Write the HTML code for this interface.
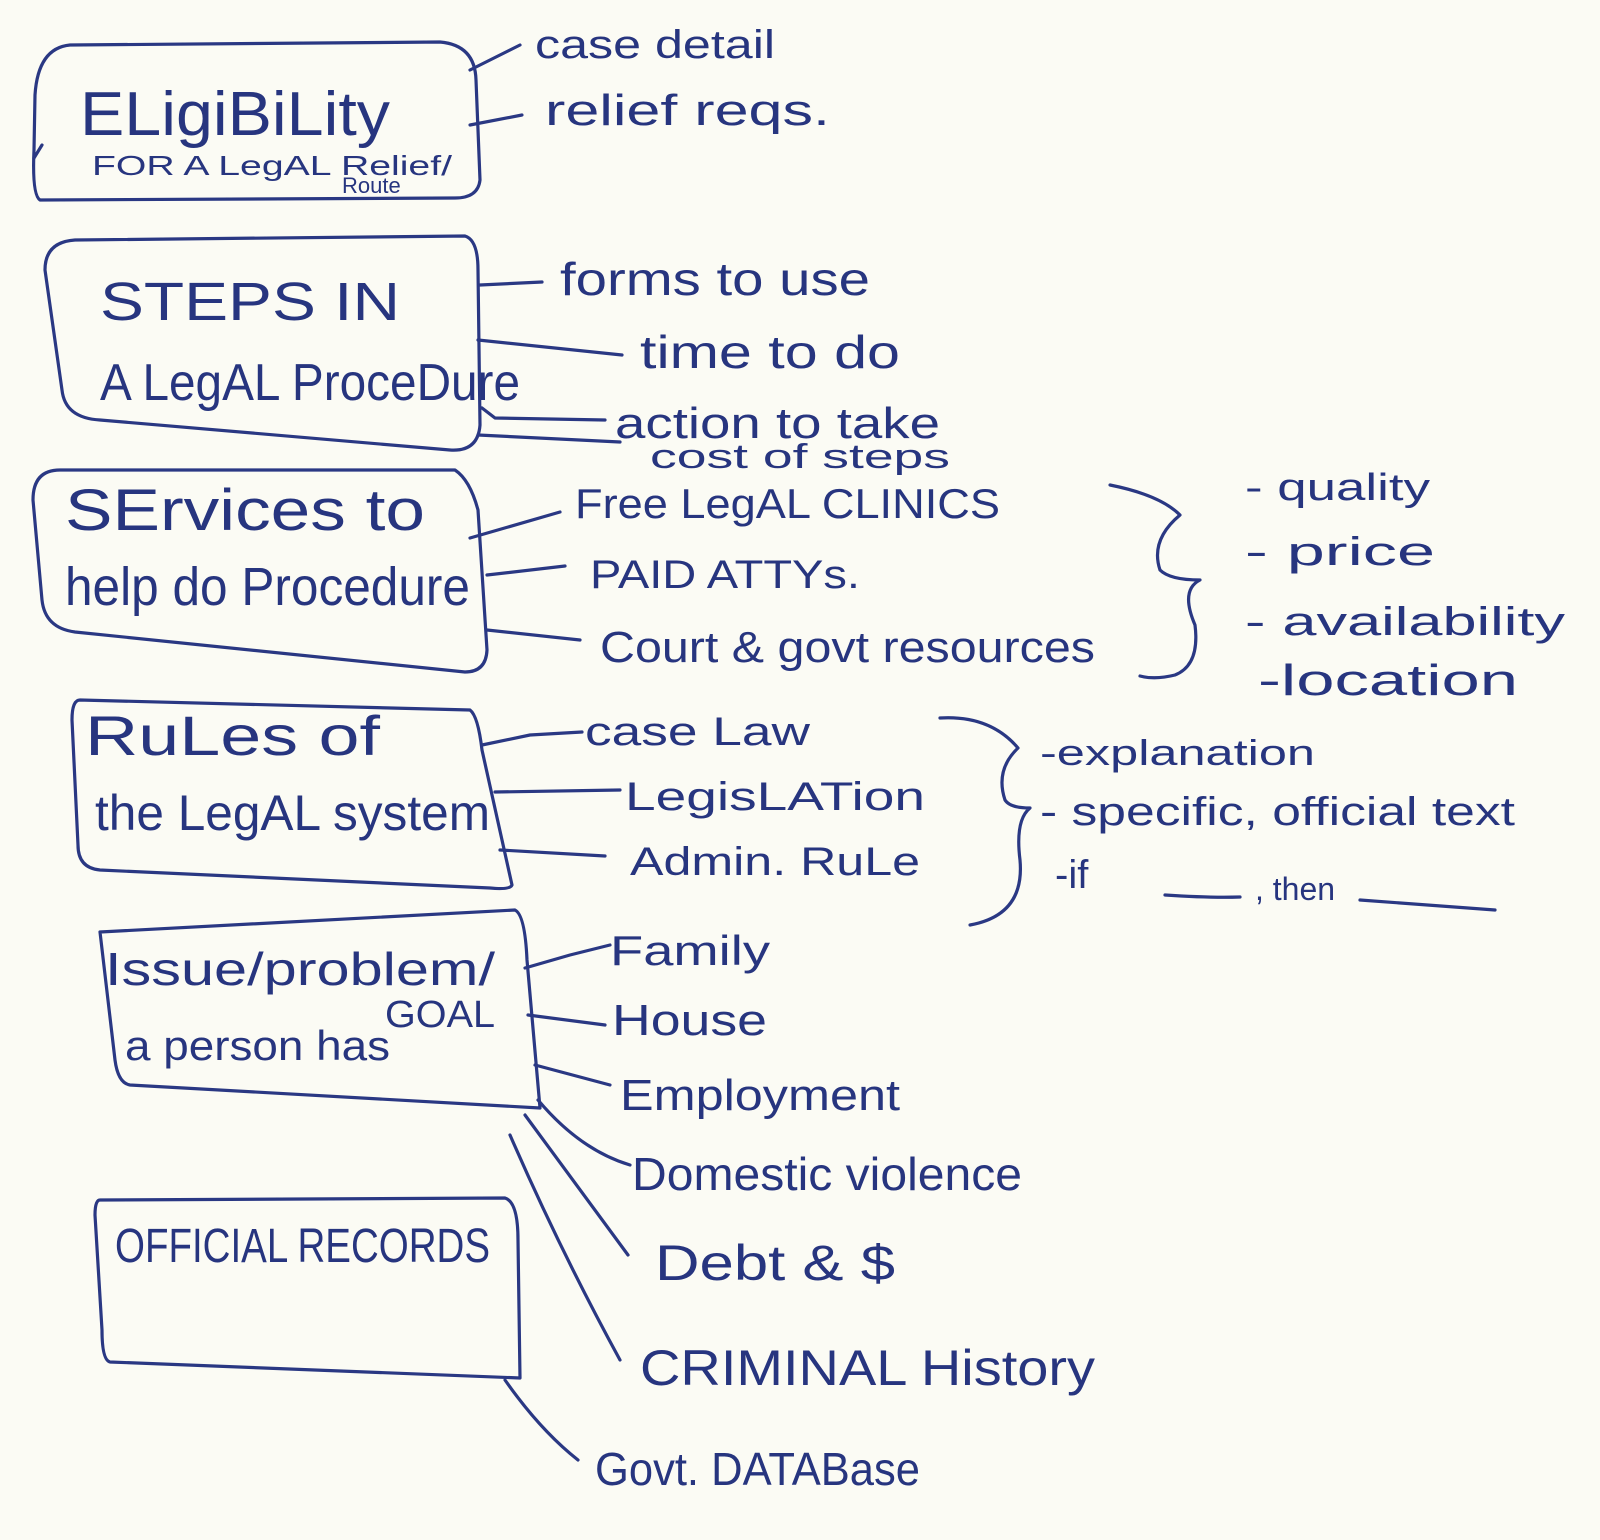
<!DOCTYPE html>
<html><head><meta charset="utf-8"><style>
html,body{margin:0;padding:0;background:#fbfbf4;}
svg{display:block;}
text{font-family:"Liberation Sans",sans-serif;fill:#27357f;}
</style></head><body>
<svg width="1600" height="1540" viewBox="0 0 1600 1540" xmlns="http://www.w3.org/2000/svg">
<rect width="1600" height="1540" fill="#fbfbf4"/>
<g fill="none" stroke="#2a3883" stroke-width="3.2" stroke-linecap="round" stroke-linejoin="round">
<!-- boxes -->
<path d="M70,45 L440,42 Q475,45 476,80 L480,180 Q478,198 455,198 L40,200 Q32,195 34,150 L35,95 Q38,48 70,45"/>
<path d="M42,145 L34,158"/>
<path d="M75,240 L465,236 Q478,240 478,270 L480,425 Q478,452 450,450 L100,420 Q65,418 62,390 L45,270 Q45,242 75,240"/>
<path d="M60,470 L455,470 Q470,480 478,510 L487,650 Q486,672 465,672 L75,632 Q45,628 42,600 L33,500 Q33,470 60,470"/>
<path d="M80,700 L470,710 Q478,716 482,750 L512,885 Q510,890 490,888 L100,870 Q78,868 78,845 L72,720 Q72,700 80,700"/>
<path d="M100,932 L515,910 Q525,915 527,960 L540,1108 L130,1085 Q118,1083 115,1060 L100,932"/>
<path d="M100,1200 L505,1198 Q518,1202 518,1240 L520,1378 L110,1362 Q102,1360 102,1330 L95,1215 Q95,1200 100,1200"/>
<!-- connectors -->
<path d="M470,70 L520,45"/><path d="M470,125 L522,115"/>
<path d="M480,285 L542,282"/><path d="M478,340 L622,355"/>
<path d="M482,408 L495,418 L605,420"/><path d="M478,435 L620,442"/>
<path d="M470,538 L560,512"/><path d="M487,575 L565,566"/><path d="M487,630 L580,640"/>
<path d="M482,745 L530,735 L582,732"/><path d="M495,792 L620,790"/><path d="M500,850 L605,856"/>
<path d="M525,968 L570,955 L610,945"/><path d="M528,1015 L605,1025"/><path d="M535,1065 L610,1085"/>
<path d="M538,1100 Q580,1150 630,1165"/><path d="M525,1115 Q580,1190 628,1255"/>
<path d="M510,1135 Q560,1250 620,1360"/><path d="M505,1380 Q540,1430 578,1460"/>
<!-- braces -->
<path d="M1110,485 Q1160,495 1180,515 Q1150,540 1160,570 Q1170,580 1200,580 Q1180,590 1195,625 Q1200,665 1175,675 Q1155,680 1140,676"/>
<path d="M940,718 Q990,715 1018,748 Q995,770 1005,800 Q1010,808 1030,808 Q1015,820 1020,860 Q1025,915 970,925"/>
<path d="M1165,895 Q1210,898 1240,897"/><path d="M1360,900 Q1430,905 1495,910"/>
</g>
<text x="80" y="135" font-size="62" textLength="310" lengthAdjust="spacingAndGlyphs">ELigiBiLity</text>
<text x="92" y="175" font-size="28" textLength="360" lengthAdjust="spacingAndGlyphs">FOR A LegAL Relief/</text>
<text x="342" y="193" font-size="22">Route</text>
<text x="535" y="58" font-size="40" textLength="240" lengthAdjust="spacingAndGlyphs">case detail</text>
<text x="545" y="125" font-size="44" textLength="285" lengthAdjust="spacingAndGlyphs">relief reqs.</text>
<text x="100" y="320" font-size="54" textLength="300" lengthAdjust="spacingAndGlyphs">STEPS   IN</text>
<text x="100" y="400" font-size="52" textLength="420" lengthAdjust="spacingAndGlyphs">A LegAL ProceDure</text>
<text x="560" y="295" font-size="46" textLength="310" lengthAdjust="spacingAndGlyphs">forms to use</text>
<text x="640" y="368" font-size="46" textLength="260" lengthAdjust="spacingAndGlyphs">time to do</text>
<text x="615" y="438" font-size="44" textLength="325" lengthAdjust="spacingAndGlyphs">action to take</text>
<text x="650" y="468" font-size="34" textLength="300" lengthAdjust="spacingAndGlyphs">cost  of steps</text>
<text x="65" y="530" font-size="58" textLength="360" lengthAdjust="spacingAndGlyphs">SErvices to</text>
<text x="65" y="605" font-size="54" textLength="405" lengthAdjust="spacingAndGlyphs">help do Procedure</text>
<text x="575" y="518" font-size="42" textLength="425" lengthAdjust="spacingAndGlyphs">Free LegAL CLINICS</text>
<text x="590" y="588" font-size="40" textLength="270" lengthAdjust="spacingAndGlyphs">PAID ATTYs.</text>
<text x="600" y="662" font-size="44" textLength="495" lengthAdjust="spacingAndGlyphs">Court &amp; govt resources</text>
<text x="1245" y="500" font-size="38" textLength="185" lengthAdjust="spacingAndGlyphs">- quality</text>
<text x="1245" y="565" font-size="40" textLength="190" lengthAdjust="spacingAndGlyphs">- price</text>
<text x="1245" y="635" font-size="40" textLength="320" lengthAdjust="spacingAndGlyphs">-  availability</text>
<text x="1258" y="695" font-size="44" textLength="260" lengthAdjust="spacingAndGlyphs">-location</text>
<text x="85" y="755" font-size="56" textLength="295" lengthAdjust="spacingAndGlyphs">RuLes   of</text>
<text x="95" y="830" font-size="50" textLength="395" lengthAdjust="spacingAndGlyphs">the LegAL system</text>
<text x="585" y="745" font-size="40" textLength="225" lengthAdjust="spacingAndGlyphs">case Law</text>
<text x="625" y="810" font-size="40" textLength="300" lengthAdjust="spacingAndGlyphs">LegisLATion</text>
<text x="630" y="875" font-size="40" textLength="290" lengthAdjust="spacingAndGlyphs">Admin. RuLe</text>
<text x="1040" y="765" font-size="36" textLength="275" lengthAdjust="spacingAndGlyphs">-explanation</text>
<text x="1040" y="825" font-size="40" textLength="475" lengthAdjust="spacingAndGlyphs">- specific, official text</text>
<text x="1055" y="888" font-size="40">-if</text>
<text x="1255" y="900" font-size="32">, then</text>
<text x="105" y="985" font-size="46" textLength="390" lengthAdjust="spacingAndGlyphs">Issue/problem/</text>
<text x="385" y="1027" font-size="38" textLength="110" lengthAdjust="spacingAndGlyphs">GOAL</text>
<text x="125" y="1060" font-size="42" textLength="265" lengthAdjust="spacingAndGlyphs">a person has</text>
<text x="610" y="965" font-size="42" textLength="160" lengthAdjust="spacingAndGlyphs">Family</text>
<text x="612" y="1035" font-size="44" textLength="155" lengthAdjust="spacingAndGlyphs">House</text>
<text x="620" y="1110" font-size="44" textLength="280" lengthAdjust="spacingAndGlyphs">Employment</text>
<text x="632" y="1190" font-size="46" textLength="390" lengthAdjust="spacingAndGlyphs">Domestic violence</text>
<text x="655" y="1280" font-size="50" textLength="240" lengthAdjust="spacingAndGlyphs">Debt &amp; $</text>
<text x="640" y="1385" font-size="50" textLength="455" lengthAdjust="spacingAndGlyphs">CRIMINAL History</text>
<text x="115" y="1262" font-size="48" textLength="375" lengthAdjust="spacingAndGlyphs">OFFICIAL RECORDS</text>
<text x="595" y="1485" font-size="46" textLength="325" lengthAdjust="spacingAndGlyphs">Govt. DATABase</text>
</svg>
</body></html>
